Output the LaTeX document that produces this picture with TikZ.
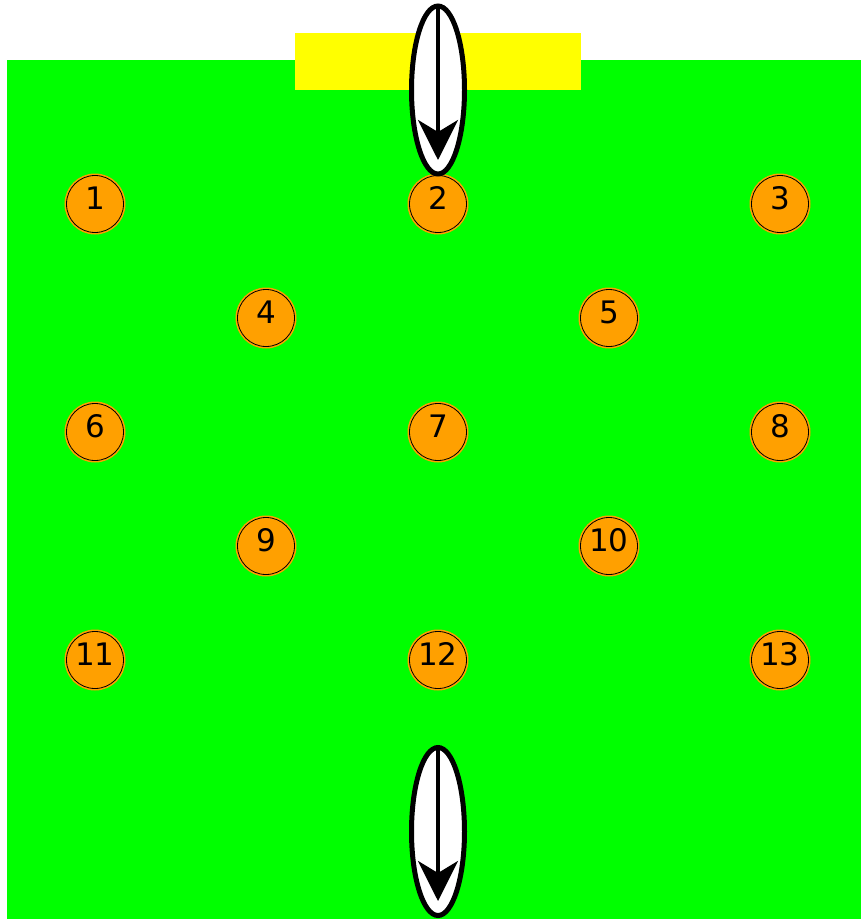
\documentclass[tikz,border=0pt]{standalone}
\usepackage{fontspec}
\setmainfont{DejaVu Sans}
\usetikzlibrary{arrows.meta, shapes.geometric}
\definecolor{ballorange}{RGB}{255,160,0}
\definecolor{pitch}{RGB}{0,255,0}
\definecolor{goalbox}{RGB}{255,255,0}

\begin{document}
\begin{tikzpicture}[
    x=1pt, y=-1pt,
    spot/.style={circle, draw=black, line width=0.8pt, fill=ballorange,
                 preaction={draw=ballorange, line width=4pt},
                 minimum size=57pt, inner sep=0pt, text depth=12pt,
                 font=\fontsize{31}{31}\selectfont},
    gate/.style={ellipse, draw=black, line width=5pt, fill=white,
                 minimum width=53pt, minimum height=168pt, inner sep=0pt},
    flow/.style={line width=4pt, -{Stealth[length=40pt, width=40pt, inset=12pt]}},
    >=Stealth
  ]
  \useasboundingbox (0,0) rectangle (861,919);

  % --- field and goal box ---
  \fill[pitch] (7,60) rectangle (861,919);
  \fill[goalbox] (295,33) rectangle (581,90);

  % --- players ---
  \node[spot] (p1)  at (95,204)  {1};
  \node[spot] (p2)  at (438,204) {2};
  \node[spot] (p3)  at (780,204) {3};
  \node[spot] (p4)  at (266,318) {4};
  \node[spot] (p5)  at (609,318) {5};
  \node[spot] (p6)  at (95,432)  {6};
  \node[spot] (p7)  at (438,432) {7};
  \node[spot] (p8)  at (780,432) {8};
  \node[spot] (p9)  at (266,546) {9};
  \node[spot] (p10) at (609,546) {10};
  \node[spot] (p11) at (95,660)  {11};
  \node[spot] (p12) at (438,660) {12};
  \node[spot] (p13) at (780,660) {13};

  % --- entry at the top ---
  \node[gate] (entry) at (438,90) {};
  \coordinate (entryEnd) at (438,160);
  \draw[flow] (entry.north) -- (entryEnd);

  % --- exit at the bottom ---
  \node[gate] (exit) at (438,831.5) {};
  \coordinate (exitEnd) at (438,901);
  \draw[flow] (exit.north) -- (exitEnd);

\end{tikzpicture}
\end{document}
